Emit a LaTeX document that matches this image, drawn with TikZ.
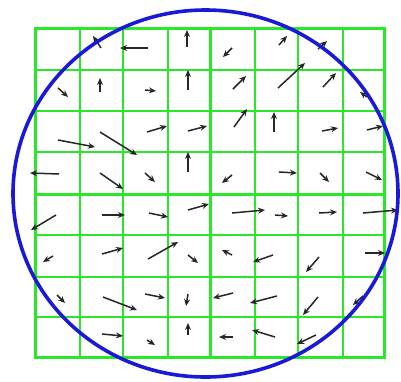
\documentclass[tikz,border=0pt]{standalone}
\usetikzlibrary{arrows.meta}
\definecolor{gridgreen}{RGB}{40,232,40}
\definecolor{ringblue}{RGB}{25,25,215}
\tikzset{
  gridthin/.style={draw=gridgreen, line width=1.4pt},
  gridthick/.style={draw=gridgreen, line width=3pt},
  ring/.style={draw=ringblue, line width=3.6pt},
  vec/.style={draw=black!85, line width=1.5pt, -{Stealth[length=7pt,width=6pt]}}
}
\begin{document}
\begin{tikzpicture}[x=1pt,y=-1pt]
\useasboundingbox (0,0) rectangle (401,381);
% thin grid lines
\foreach \x in {80,123,168,255,298,343} \draw[gridthin] (\x,28) -- (\x,357);
\foreach \y in {70,111,152,235,277,317} \draw[gridthin] (35,\y) -- (384,\y);
% thick lines
\draw[gridthick] (210,28) -- (210,357);
\draw[gridthick] (35,194) -- (384,194);
\draw[gridthick] (35,28) rectangle (384,357);
% arrows
\foreach \ax/\ay/\bx/\by in {
 101/48/93/36, 148/48/120/48, 187/47/187/30,
 58/88/68/97, 100/92/100/78, 145/90/156/91, 188/90/188/70,
 147/132/167/126, 188/131/207/126, 58/140/95/147, 100/132/137/155,
 188/172/188/152, 59/174/30/173, 100/173/123/189, 145/173/155/182,
 232/48/223/57, 279/45/287/36, 318/49/327/41,
 233/89/246/76, 278/88/305/63, 323/87/336/73, 367/97/360/92,
 234/127/247/109, 274/132/274/112, 322/131/338/128, 367/130/383/126,
 232/175/222/183, 279/172/297/173, 320/173/329/182, 366/172/382/180,
 56/215/31/230, 102/215/125/215, 149/213/168/217, 188/210/209/204,
 53/256/43/262, 102/254/123/248, 148/259/178/242, 188/255/198/263,
 57/295/65/303, 103/297/137/310, 145/294/165/298, 188/294/186/306,
 102/334/123/336, 147/340/155/345, 188/335/188/323,
 232/213/265/210, 275/215/288/216, 319/213/337/212, 363/213/398/210,
 232/255/222/250, 273/255/253/262, 319/257/306/272, 365/253/385/253,
 233/293/213/298, 277/296/250/303, 318/297/303/315, 363/296/353/305,
 233/337/219/337, 275/337/252/330, 316/335/297/344}
 \draw[vec] (\ax,\ay) -- (\bx,\by);
% ellipse
\draw[ring] (205.5,193.5) ellipse [x radius=192.5, y radius=183.5];
\end{tikzpicture}
\end{document}
